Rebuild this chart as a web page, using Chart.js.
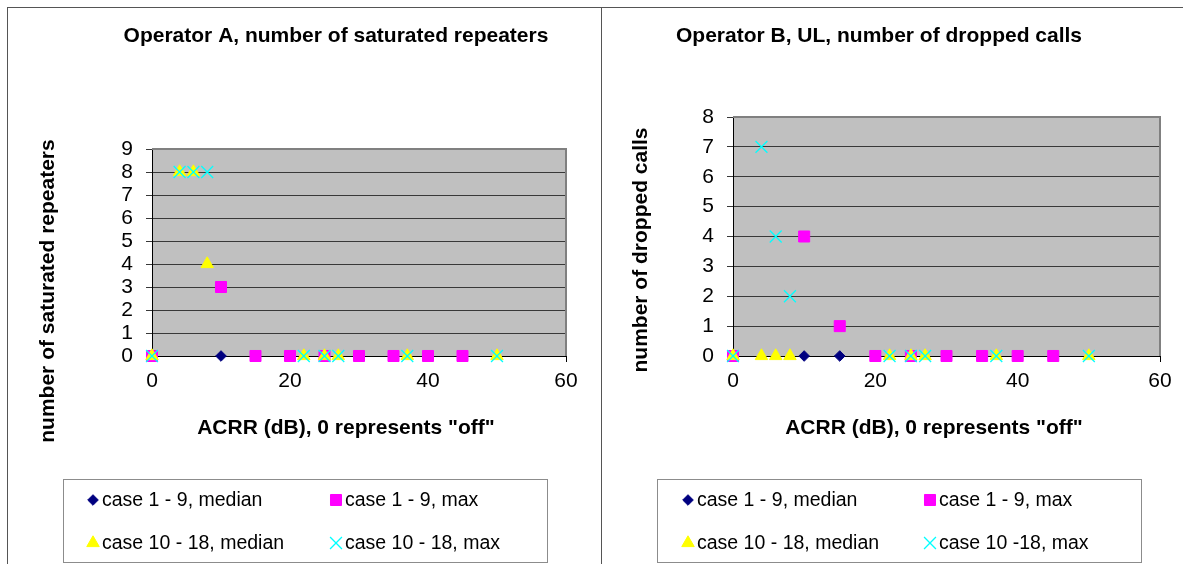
<!DOCTYPE html>
<html>
<head>
<meta charset="utf-8">
<title>ACRR results</title>
<style>
  html, body { margin: 0; padding: 0; background: #fff; }
  body { width: 1183px; height: 564px; position: relative; overflow: hidden; }
  .frame { position: absolute; border-top: 1px solid #555; border-left: 1px solid #555; }
  canvas { position: absolute; top: 0; }
</style>
</head>
<body>
<div class="frame" style="left:7px;top:7px;width:600px;height:570px"></div>
<div class="frame" style="left:601px;top:7px;width:600px;height:570px"></div>
<canvas id="chartA" width="600" height="564" style="left:0;width:600px;height:564px"></canvas>
<canvas id="chartB" width="583" height="564" style="left:600px;width:583px;height:564px"></canvas>
<script src="https://cdn.jsdelivr.net/npm/chart.js@4/dist/chart.umd.min.js"></script>
<script>
// ACRR values (dB) measured for each group of cases, 0 = "off"
const acrrCase1to9 = [0, 10, 15, 20, 25, 30, 35, 40, 45];
const acrrCase10to18 = [0, 4, 6, 8, 22, 25, 27, 37, 50];
const xTicks = [0, 20, 40, 60];

// Operator A, number of saturated repeaters
const opA_median1to9 = [0, 0, 0, 0, 0, 0, 0, 0, 0];
const opA_max1to9 = [0, 3, 0, 0, 0, 0, 0, 0, 0];
const opA_median10to18 = [0, 8, 8, 4, 0, 0, 0, 0, 0];
const opA_max10to18 = [0, 8, 8, 8, 0, 0, 0, 0, 0];

// Operator B, UL, number of dropped calls
const opB_median1to9 = [0, 0, 0, 0, 0, 0, 0, 0, 0];
const opB_max1to9 = [0, 4, 1, 0, 0, 0, 0, 0, 0];
const opB_median10to18 = [0, 0, 0, 0, 0, 0, 0, 0, 0];
const opB_max10to18 = [0, 7, 4, 2, 0, 0, 0, 0, 0];

const labelsA = ['case 1 - 9, median', 'case 1 - 9, max', 'case 10 - 18, median', 'case 10 - 18, max'];
const labelsB = ['case 1 - 9, median', 'case 1 - 9, max', 'case 10 - 18, median', 'case 10 -18, max'];

const FONT = '"Liberation Sans", Arial, sans-serif';

// marker look of the four series (diamond, square, triangle, x)
const markers = [
  { pointStyle: 'rectRot', radius: 5.3, color: '#000080', borderWidth: 1, order: 3 },
  { pointStyle: 'rect', radius: 7.8, color: '#ff00ff', borderWidth: 1, order: 2 },
  { pointStyle: 'triangle', radius: 7.2, color: '#ffff00', borderWidth: 1, order: 1 },
  { pointStyle: 'crossRot', radius: 8.4, color: '#00ffff', borderWidth: 1.3, order: 0 }
];

function points(xs, ys) {
  return xs.map((x, i) => ({ x: x, y: ys[i] }));
}

function makeDatasets(labels, series) {
  return series.map((s, i) => ({
    label: labels[i],
    data: points(s[0], s[1]),
    pointStyle: markers[i].pointStyle,
    pointRadius: markers[i].radius,
    pointHoverRadius: markers[i].radius,
    backgroundColor: markers[i].color,
    borderColor: markers[i].color,
    borderWidth: markers[i].borderWidth,
    order: markers[i].order,
    clip: false
  }));
}

function drawMarker(ctx, m, x, y) {
  ctx.fillStyle = m.color;
  ctx.strokeStyle = m.color;
  ctx.lineWidth = m.borderWidth;
  if (Chart.helpers && Chart.helpers.drawPoint) {
    Chart.helpers.drawPoint(ctx, { pointStyle: m.pointStyle, radius: m.radius, borderWidth: m.borderWidth, rotation: 0 }, x, y);
  }
}

// grey plot area, titles and the boxed 2x2 legend
const excelLook = {
  id: 'excelLook',
  beforeDraw(chart) {
    const a = chart.chartArea, ctx = chart.ctx;
    ctx.save();
    ctx.fillStyle = '#c0c0c0';
    ctx.fillRect(a.left, a.top, a.right - a.left, a.bottom - a.top);
    ctx.restore();
  },
  beforeDatasetsDraw(chart) {
    const a = chart.chartArea, ctx = chart.ctx;
    ctx.save();
    ctx.strokeStyle = '#808080';
    ctx.lineWidth = 2;
    ctx.beginPath();
    ctx.moveTo(a.left, a.top);
    ctx.lineTo(a.right, a.top);
    ctx.lineTo(a.right, a.bottom);
    ctx.stroke();
    ctx.restore();
  },
  afterDraw(chart, args, o) {
    const ctx = chart.ctx;
    ctx.save();
    ctx.fillStyle = '#000';
    ctx.textAlign = 'center';
    ctx.textBaseline = 'middle';
    ctx.font = 'bold 21px ' + FONT;
    ctx.fillText(o.title, o.titlePos[0], o.titlePos[1]);
    ctx.fillText(o.xTitle, o.xTitlePos[0], o.xTitlePos[1]);
    ctx.save();
    ctx.translate(o.yTitlePos[0], o.yTitlePos[1]);
    ctx.rotate(-Math.PI / 2);
    ctx.fillText(o.yTitle, 0, 0);
    ctx.restore();

    // legend box
    const b = o.legendBox;
    ctx.strokeStyle = '#8c8c8c';
    ctx.lineWidth = 1;
    ctx.strokeRect(b[0] + 0.5, b[1] + 0.5, b[2] - b[0], b[3] - b[1]);
    ctx.font = '19.5px ' + FONT;
    ctx.textAlign = 'left';
    chart.data.datasets.forEach((ds, i) => {
      const col = i % 2, row = Math.floor(i / 2);
      const y = o.legendRows[row];
      ctx.save();
      drawMarker(ctx, markers[i], o.legendMarkX[col], y);
      ctx.restore();
      ctx.fillStyle = '#000';
      ctx.fillText(ds.label, o.legendTextX[col], y + 1);
    });
    ctx.restore();
  }
};

function buildChart(id, datasets, yMax, yWidth, pad, look) {
  const tickFont = { family: FONT, size: 21 };
  return new Chart(document.getElementById(id), {
    type: 'scatter',
    data: { datasets: datasets },
    options: {
      responsive: false,
      animation: false,
      events: [],
      layout: { padding: pad },
      plugins: {
        legend: { display: false },
        tooltip: { enabled: false },
        excelLook: look
      },
      scales: {
        x: {
          type: 'linear',
          min: xTicks[0],
          max: xTicks[xTicks.length - 1],
          afterBuildTicks: s => { s.ticks = xTicks.map(v => ({ value: v })); },
          ticks: { color: '#000', font: tickFont, padding: 7, maxRotation: 0, autoSkip: false },
          grid: { display: true, drawOnChartArea: false, drawTicks: true, tickLength: 6, color: '#000' },
          border: { color: '#000', width: 1 },
          afterFit: s => { s.height = 40; }
        },
        y: {
          min: 0,
          max: yMax,
          ticks: { stepSize: 1, color: '#000', font: tickFont, padding: 13, autoSkip: false },
          grid: { color: '#383838', lineWidth: 1, tickLength: 6 },
          border: { color: '#000', width: 1 },
          afterFit: s => { s.width = yWidth; }
        }
      }
    },
    plugins: [excelLook]
  });
}

buildChart('chartA',
  makeDatasets(labelsA, [
    [acrrCase1to9, opA_median1to9],
    [acrrCase1to9, opA_max1to9],
    [acrrCase10to18, opA_median10to18],
    [acrrCase10to18, opA_max10to18]
  ]),
  9, 122, { left: 30, right: 34, top: 149, bottom: 168 },
  {
    title: 'Operator A, number of saturated repeaters', titlePos: [336, 36],
    xTitle: 'ACRR (dB), 0 represents "off"', xTitlePos: [346, 428],
    yTitle: 'number of saturated repeaters', yTitlePos: [48, 291],
    legendBox: [63, 479, 547, 562],
    legendRows: [500, 543], legendMarkX: [93, 336], legendTextX: [102, 345]
  });

buildChart('chartB',
  makeDatasets(labelsB, [
    [acrrCase1to9, opB_median1to9],
    [acrrCase1to9, opB_max1to9],
    [acrrCase10to18, opB_median10to18],
    [acrrCase10to18, opB_max10to18]
  ]),
  8, 103, { left: 30, right: 23, top: 117, bottom: 168 },
  {
    title: 'Operator B, UL, number of dropped calls', titlePos: [279, 36],
    xTitle: 'ACRR (dB), 0 represents "off"', xTitlePos: [334, 428],
    yTitle: 'number of dropped calls', yTitlePos: [41, 250],
    legendBox: [57, 479, 541, 562],
    legendRows: [500, 543], legendMarkX: [88, 330], legendTextX: [97, 339]
  });
</script>
</body>
</html>
